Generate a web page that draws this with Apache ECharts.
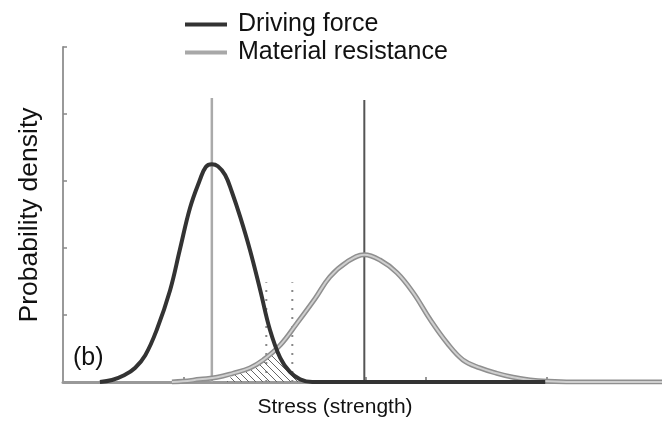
<!DOCTYPE html>
<html>
<head>
<meta charset="utf-8">
<script src="https://cdn.jsdelivr.net/npm/echarts@6/dist/echarts.min.js"></script>
<style>
  html, body { margin: 0; background: #fff; }
  #chart { width: 662px; height: 421px; }
</style>
</head>
<body>
<div id="chart"></div>
<script>
// values (x: stress units, y: density)
const drivingForce = [
  [0.61, 0], [0.81, 0.03], [1.01, 0.10], [1.19, 0.21], [1.36, 0.40], [1.55, 0.78],
  [1.77, 1.37], [1.93, 1.97], [2.10, 2.60], [2.26, 3.01], [2.36, 3.21], [2.46, 3.25],
  [2.56, 3.22], [2.68, 3.09], [2.79, 2.84], [2.93, 2.46], [3.09, 1.97], [3.26, 1.37],
  [3.42, 0.78], [3.59, 0.36], [3.75, 0.15], [3.92, 0.04], [4.12, 0], [7.97, 0]
];
const materialResistance = [
  [1.8, 0], [1.98, 0.01], [2.26, 0.04], [2.55, 0.07], [2.81, 0.13], [3.09, 0.21],
  [3.31, 0.33], [3.59, 0.55], [3.87, 0.88], [4.17, 1.25], [4.41, 1.57], [4.69, 1.79],
  [4.98, 1.90], [5.24, 1.82], [5.52, 1.63], [5.79, 1.33], [6.07, 0.93], [6.35, 0.58],
  [6.61, 0.33], [6.89, 0.21], [7.17, 0.13], [7.44, 0.07], [7.72, 0.03], [8.02, 0.01],
  [8.4, 0], [9.9, 0]
];
const overlapArea = [
  [2.7, 0], [2.81, 0.1], [3.09, 0.21], [3.31, 0.33], [3.47, 0.48], [3.59, 0.34],
  [3.75, 0.14], [3.92, 0.03], [4.0, 0]
];
const drivingMean = [[2.46, 0], [2.46, 4.24]];
const resistanceMean = [[4.98, 0], [4.98, 4.21]];
const boundLow = [[3.36, 0], [3.36, 1.49]];
const boundHigh = [[3.79, 0], [3.79, 1.49]];
const xTicks = [2, 5, 6, 8];
const yTicks = [1, 2, 3, 4, 5];

const FONT = '"Liberation Sans", Arial, sans-serif';

// little hatch tile for the overlap
const hatch = document.createElement('canvas');
hatch.width = 7; hatch.height = 7;
(function () {
  const c = hatch.getContext('2d');
  c.strokeStyle = '#666';
  c.lineWidth = 1;
  c.beginPath();
  c.moveTo(0, 0); c.lineTo(7, 7);
  c.moveTo(-1, 6); c.lineTo(1, 8);
  c.moveTo(6, -1); c.lineTo(8, 1);
  c.stroke();
})();

const chart = echarts.init(document.getElementById('chart'));

const vline = (data, color, width, type) => ({
  type: 'line', data, symbol: 'none', silent: true,
  lineStyle: { color, width, type: type || 'solid' }, z: 1
});

chart.setOption({
  animation: false,
  backgroundColor: '#fff',
  grid: { left: 63, right: 0, top: 47, bottom: 39 },
  legend: {
    orient: 'vertical',
    left: 180, top: 7,
    icon: 'rect',
    itemWidth: 42, itemHeight: 4, itemGap: 3,
    textStyle: { fontFamily: FONT, fontSize: 25, color: '#111', padding: [0, 0, 0, 6] },
    data: ['Driving force', 'Material resistance']
  },
  xAxis: {
    type: 'value', min: 0, max: 9.9,
    axisLine: { lineStyle: { color: '#999', width: 3 } },
    axisTick: { inside: true, length: 5, customValues: xTicks, lineStyle: { color: '#777', width: 1.5 } },
    axisLabel: { show: false },
    splitLine: { show: false }
  },
  yAxis: {
    type: 'value', min: 0, max: 5, interval: 1,
    axisLine: { show: true, lineStyle: { color: '#999', width: 2 } },
    axisTick: { show: true, inside: true, length: 4, customValues: yTicks, lineStyle: { color: '#888', width: 1.5 } },
    axisLabel: { show: false },
    splitLine: { show: false }
  },
  graphic: [
    { type: 'text', rotation: Math.PI / 2, x: 30, y: 215,
      style: { text: 'Probability density', fontFamily: FONT, fontSize: 26.5, fill: '#111',
               align: 'center', verticalAlign: 'middle' } },
    { type: 'text', x: 335, y: 407,
      style: { text: 'Stress (strength)', fontFamily: FONT, fontSize: 21, fill: '#111',
               align: 'center', verticalAlign: 'middle' } },
    { type: 'text', x: 73, y: 358,
      style: { text: '(b)', fontFamily: FONT, fontSize: 25, fill: '#111',
               align: 'left', verticalAlign: 'middle' } }
  ],
  series: [
    vline(drivingMean, '#aaa', 2.5),
    vline(resistanceMean, '#555', 2),
    vline(boundLow, '#888', 2, [2, 7]),
    vline(boundHigh, '#888', 2, [2, 7]),
    {
      type: 'line', data: overlapArea, symbol: 'none', silent: true, smooth: 0.3,
      lineStyle: { width: 0 },
      areaStyle: { color: { image: hatch, repeat: 'repeat' }, opacity: 1 },
      z: 2
    },
    {
      name: 'Material resistance', type: 'line', data: materialResistance,
      symbol: 'none', smooth: 0.4,
      lineStyle: { color: '#8f8f8f', width: 5 }, itemStyle: { color: '#a8a8a8' }, z: 3
    },
    {
      type: 'line', data: materialResistance, symbol: 'none', silent: true,
      smooth: 0.4,
      lineStyle: { color: '#cfcfcf', width: 2 }, z: 4
    },
    {
      name: 'Driving force', type: 'line', data: drivingForce,
      symbol: 'none', smooth: 0.4,
      lineStyle: { color: '#333', width: 4 }, itemStyle: { color: '#333' }, z: 5
    }
  ]
});
</script>
</body>
</html>
